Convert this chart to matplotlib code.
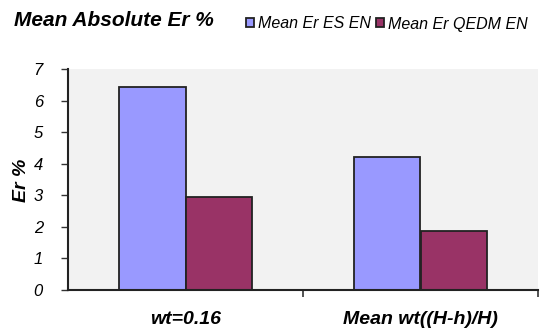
import matplotlib
matplotlib.use("Agg")
import matplotlib.pyplot as plt
import numpy as np

plt.rcParams['font.family'] = ['Liberation Sans', 'DejaVu Sans']

categories = ["wt=0.16", "Mean wt((H-h)/H)"]
series_names = ["Mean Er ES EN", "Mean Er QEDM EN"]
es_en = [6.43, 4.21]
qedm_en = [2.95, 1.87]
colors = ["#9999FF", "#993366"]

fig = plt.figure(figsize=(5.51, 3.34), dpi=100)
ax = fig.add_axes([68 / 551, 1 - 290 / 334, 470 / 551, 221 / 334])
ax.set_facecolor("#F2F2F2")

x = np.arange(len(categories))
w = 0.285
for i, (vals, name, col) in enumerate(zip([es_en, qedm_en], series_names, colors)):
    ax.bar(x + (i - 0.5) * w, vals, width=w, align="center", color=col,
           edgecolor="#222222", linewidth=1.3, label=name)

ax.set_xlim(-0.5, len(categories) - 0.5)
ax.set_ylim(0, 7)
ax.set_yticks(range(0, 8))
ax.set_yticklabels([str(v) for v in range(0, 8)], fontsize=12, style="italic")

# category labels sit between the boundary ticks
ax.set_xticks([0.5, 1.5])
ax.set_xticklabels([])
ax.tick_params(axis="x", direction="out", length=5, width=1.2, color="#333333")
ax.tick_params(axis="y", direction="out", length=5, width=1, color="#333333", pad=13)
for xi, lab in zip(x, categories):
    ax.text(xi, -0.93, lab, ha="center", va="center", fontsize=14,
            style="italic", fontweight="bold", transform=ax.transData)

for s in ["top", "right"]:
    ax.spines[s].set_visible(False)
for s in ["left", "bottom"]:
    ax.spines[s].set_linewidth(1.5)
    ax.spines[s].set_color("#222222")

fig.text(21 / 551, 1 - 180 / 334, "Er %", fontsize=14, style="italic",
         fontweight="bold", rotation=90, ha="center", va="center")

fig.text(14 / 551, 1 - 21 / 334, "Mean Absolute Er %", fontsize=15,
         style="italic", fontweight="bold", ha="left", va="center")

leg = fig.legend(loc="center left", bbox_to_anchor=(238 / 551, 1 - 24 / 334),
                 ncol=2, frameon=False,
                 prop={"style": "italic", "size": 11.5},
                 handlelength=0.5, handleheight=0.5, handletextpad=0.25,
                 columnspacing=0.35, borderpad=0)

fig.savefig("out.png", dpi=100)
